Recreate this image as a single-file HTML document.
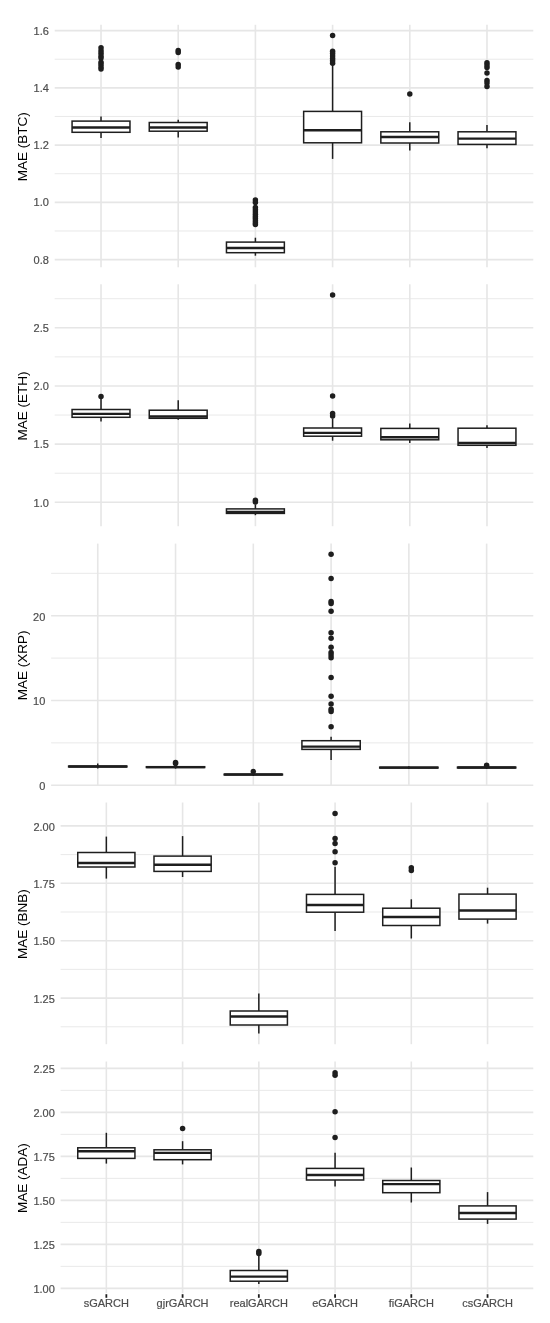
<!DOCTYPE html>
<html><head><meta charset="utf-8"><title>MAE boxplots</title>
<style>
html,body{margin:0;padding:0;background:#fff;}
body{width:550px;height:1323px;overflow:hidden;}
svg{display:block;will-change:transform;}
.tk{font-family:"Liberation Sans",sans-serif;font-size:11px;fill:#4D4D4D;stroke:#4D4D4D;stroke-width:0.2px;}
.tt{font-family:"Liberation Sans",sans-serif;font-size:13.5px;fill:#000;}
</style></head>
<body>
<svg width="550" height="1323" viewBox="0 0 550 1323">
<rect width="550" height="1323" fill="#fff"/>
<g>
<line x1="54.7" y1="230.98" x2="533.3" y2="230.98" stroke="#E6E6E6" stroke-width="0.9"/>
<line x1="54.7" y1="173.72" x2="533.3" y2="173.72" stroke="#E6E6E6" stroke-width="0.9"/>
<line x1="54.7" y1="116.48" x2="533.3" y2="116.48" stroke="#E6E6E6" stroke-width="0.9"/>
<line x1="54.7" y1="59.23" x2="533.3" y2="59.23" stroke="#E6E6E6" stroke-width="0.9"/>
<line x1="54.7" y1="259.6" x2="533.3" y2="259.6" stroke="#E6E6E6" stroke-width="1.6"/>
<line x1="54.7" y1="202.35" x2="533.3" y2="202.35" stroke="#E6E6E6" stroke-width="1.6"/>
<line x1="54.7" y1="145.1" x2="533.3" y2="145.1" stroke="#E6E6E6" stroke-width="1.6"/>
<line x1="54.7" y1="87.85" x2="533.3" y2="87.85" stroke="#E6E6E6" stroke-width="1.6"/>
<line x1="54.7" y1="30.6" x2="533.3" y2="30.6" stroke="#E6E6E6" stroke-width="1.6"/>
<line x1="101.02" y1="24.8" x2="101.02" y2="267.3" stroke="#E6E6E6" stroke-width="1.6"/>
<line x1="178.21" y1="24.8" x2="178.21" y2="267.3" stroke="#E6E6E6" stroke-width="1.6"/>
<line x1="255.4" y1="24.8" x2="255.4" y2="267.3" stroke="#E6E6E6" stroke-width="1.6"/>
<line x1="332.6" y1="24.8" x2="332.6" y2="267.3" stroke="#E6E6E6" stroke-width="1.6"/>
<line x1="409.79" y1="24.8" x2="409.79" y2="267.3" stroke="#E6E6E6" stroke-width="1.6"/>
<line x1="486.98" y1="24.8" x2="486.98" y2="267.3" stroke="#E6E6E6" stroke-width="1.6"/>
<text x="48.9" y="263.55" class="tk" text-anchor="end">0.8</text>
<text x="48.9" y="206.3" class="tk" text-anchor="end">1.0</text>
<text x="48.9" y="149.05" class="tk" text-anchor="end">1.2</text>
<text x="48.9" y="91.8" class="tk" text-anchor="end">1.4</text>
<text x="48.9" y="34.55" class="tk" text-anchor="end">1.6</text>
<text class="tt" text-anchor="middle" transform="translate(26.8 146.85) rotate(-90)">MAE (BTC)</text>
<line x1="101.02" y1="116.6" x2="101.02" y2="121.1" stroke="#1E1E1E" stroke-width="1.5"/>
<line x1="101.02" y1="132.3" x2="101.02" y2="138.1" stroke="#1E1E1E" stroke-width="1.5"/>
<rect x="72.07" y="121.1" width="57.9" height="11.2" fill="#fff" stroke="#1E1E1E" stroke-width="1.5"/>
<line x1="72.07" y1="127.5" x2="129.96" y2="127.5" stroke="#1E1E1E" stroke-width="2.4"/>
<circle cx="101.02" cy="47.7" r="2.75" fill="#1E1E1E"/>
<circle cx="101.02" cy="50.8" r="2.75" fill="#1E1E1E"/>
<circle cx="101.02" cy="53.3" r="2.75" fill="#1E1E1E"/>
<circle cx="101.02" cy="56" r="2.75" fill="#1E1E1E"/>
<circle cx="101.02" cy="58" r="2.75" fill="#1E1E1E"/>
<circle cx="101.02" cy="62.2" r="2.75" fill="#1E1E1E"/>
<circle cx="101.02" cy="64.6" r="2.75" fill="#1E1E1E"/>
<circle cx="101.02" cy="67" r="2.75" fill="#1E1E1E"/>
<circle cx="101.02" cy="69.1" r="2.75" fill="#1E1E1E"/>
<line x1="178.21" y1="119.7" x2="178.21" y2="122.5" stroke="#1E1E1E" stroke-width="1.5"/>
<line x1="178.21" y1="131.2" x2="178.21" y2="137.5" stroke="#1E1E1E" stroke-width="1.5"/>
<rect x="149.26" y="122.5" width="57.9" height="8.7" fill="#fff" stroke="#1E1E1E" stroke-width="1.5"/>
<line x1="149.26" y1="127.5" x2="207.16" y2="127.5" stroke="#1E1E1E" stroke-width="2.4"/>
<circle cx="178.21" cy="50.5" r="2.75" fill="#1E1E1E"/>
<circle cx="178.21" cy="52.5" r="2.75" fill="#1E1E1E"/>
<circle cx="178.21" cy="64.6" r="2.75" fill="#1E1E1E"/>
<circle cx="178.21" cy="67" r="2.75" fill="#1E1E1E"/>
<line x1="255.4" y1="237.7" x2="255.4" y2="242.1" stroke="#1E1E1E" stroke-width="1.5"/>
<line x1="255.4" y1="252.7" x2="255.4" y2="255.7" stroke="#1E1E1E" stroke-width="1.5"/>
<rect x="226.46" y="242.1" width="57.9" height="10.6" fill="#fff" stroke="#1E1E1E" stroke-width="1.5"/>
<line x1="226.46" y1="248" x2="284.35" y2="248" stroke="#1E1E1E" stroke-width="2.4"/>
<circle cx="255.4" cy="200" r="2.75" fill="#1E1E1E"/>
<circle cx="255.4" cy="202.6" r="2.75" fill="#1E1E1E"/>
<circle cx="255.4" cy="207.6" r="2.75" fill="#1E1E1E"/>
<circle cx="255.4" cy="209.8" r="2.75" fill="#1E1E1E"/>
<circle cx="255.4" cy="212" r="2.75" fill="#1E1E1E"/>
<circle cx="255.4" cy="214.2" r="2.75" fill="#1E1E1E"/>
<circle cx="255.4" cy="216.4" r="2.75" fill="#1E1E1E"/>
<circle cx="255.4" cy="218.6" r="2.75" fill="#1E1E1E"/>
<circle cx="255.4" cy="220.8" r="2.75" fill="#1E1E1E"/>
<circle cx="255.4" cy="222.8" r="2.75" fill="#1E1E1E"/>
<circle cx="255.4" cy="224.4" r="2.75" fill="#1E1E1E"/>
<line x1="332.6" y1="64.5" x2="332.6" y2="111.4" stroke="#1E1E1E" stroke-width="1.5"/>
<line x1="332.6" y1="142.8" x2="332.6" y2="158.9" stroke="#1E1E1E" stroke-width="1.5"/>
<rect x="303.65" y="111.4" width="57.9" height="31.4" fill="#fff" stroke="#1E1E1E" stroke-width="1.5"/>
<line x1="303.65" y1="130.2" x2="361.54" y2="130.2" stroke="#1E1E1E" stroke-width="2.4"/>
<circle cx="332.6" cy="35.6" r="2.75" fill="#1E1E1E"/>
<circle cx="332.6" cy="51.2" r="2.75" fill="#1E1E1E"/>
<circle cx="332.6" cy="53.6" r="2.75" fill="#1E1E1E"/>
<circle cx="332.6" cy="56" r="2.75" fill="#1E1E1E"/>
<circle cx="332.6" cy="58.4" r="2.75" fill="#1E1E1E"/>
<circle cx="332.6" cy="60.8" r="2.75" fill="#1E1E1E"/>
<circle cx="332.6" cy="63.2" r="2.75" fill="#1E1E1E"/>
<line x1="409.79" y1="122.3" x2="409.79" y2="131.8" stroke="#1E1E1E" stroke-width="1.5"/>
<line x1="409.79" y1="143" x2="409.79" y2="150.6" stroke="#1E1E1E" stroke-width="1.5"/>
<rect x="380.84" y="131.8" width="57.9" height="11.2" fill="#fff" stroke="#1E1E1E" stroke-width="1.5"/>
<line x1="380.84" y1="137" x2="438.74" y2="137" stroke="#1E1E1E" stroke-width="2.4"/>
<circle cx="409.79" cy="94" r="2.75" fill="#1E1E1E"/>
<line x1="486.98" y1="125" x2="486.98" y2="131.8" stroke="#1E1E1E" stroke-width="1.5"/>
<line x1="486.98" y1="144.4" x2="486.98" y2="148.2" stroke="#1E1E1E" stroke-width="1.5"/>
<rect x="458.04" y="131.8" width="57.9" height="12.6" fill="#fff" stroke="#1E1E1E" stroke-width="1.5"/>
<line x1="458.04" y1="138.6" x2="515.93" y2="138.6" stroke="#1E1E1E" stroke-width="2.4"/>
<circle cx="486.98" cy="62.8" r="2.75" fill="#1E1E1E"/>
<circle cx="486.98" cy="65" r="2.75" fill="#1E1E1E"/>
<circle cx="486.98" cy="67.5" r="2.75" fill="#1E1E1E"/>
<circle cx="486.98" cy="73.1" r="2.75" fill="#1E1E1E"/>
<circle cx="486.98" cy="80.5" r="2.75" fill="#1E1E1E"/>
<circle cx="486.98" cy="83" r="2.75" fill="#1E1E1E"/>
<circle cx="486.98" cy="86.4" r="2.75" fill="#1E1E1E"/>
</g>
<g>
<line x1="54.7" y1="473.23" x2="533.3" y2="473.23" stroke="#E6E6E6" stroke-width="0.9"/>
<line x1="54.7" y1="415.06" x2="533.3" y2="415.06" stroke="#E6E6E6" stroke-width="0.9"/>
<line x1="54.7" y1="356.88" x2="533.3" y2="356.88" stroke="#E6E6E6" stroke-width="0.9"/>
<line x1="54.7" y1="298.72" x2="533.3" y2="298.72" stroke="#E6E6E6" stroke-width="0.9"/>
<line x1="54.7" y1="502.31" x2="533.3" y2="502.31" stroke="#E6E6E6" stroke-width="1.6"/>
<line x1="54.7" y1="444.14" x2="533.3" y2="444.14" stroke="#E6E6E6" stroke-width="1.6"/>
<line x1="54.7" y1="385.97" x2="533.3" y2="385.97" stroke="#E6E6E6" stroke-width="1.6"/>
<line x1="54.7" y1="327.8" x2="533.3" y2="327.8" stroke="#E6E6E6" stroke-width="1.6"/>
<line x1="101.02" y1="284.3" x2="101.02" y2="526.2" stroke="#E6E6E6" stroke-width="1.6"/>
<line x1="178.21" y1="284.3" x2="178.21" y2="526.2" stroke="#E6E6E6" stroke-width="1.6"/>
<line x1="255.4" y1="284.3" x2="255.4" y2="526.2" stroke="#E6E6E6" stroke-width="1.6"/>
<line x1="332.6" y1="284.3" x2="332.6" y2="526.2" stroke="#E6E6E6" stroke-width="1.6"/>
<line x1="409.79" y1="284.3" x2="409.79" y2="526.2" stroke="#E6E6E6" stroke-width="1.6"/>
<line x1="486.98" y1="284.3" x2="486.98" y2="526.2" stroke="#E6E6E6" stroke-width="1.6"/>
<text x="48.9" y="506.56" class="tk" text-anchor="end">1.0</text>
<text x="48.9" y="448.39" class="tk" text-anchor="end">1.5</text>
<text x="48.9" y="390.22" class="tk" text-anchor="end">2.0</text>
<text x="48.9" y="332.05" class="tk" text-anchor="end">2.5</text>
<text class="tt" text-anchor="middle" transform="translate(26.8 406.05) rotate(-90)">MAE (ETH)</text>
<line x1="101.02" y1="399" x2="101.02" y2="409.5" stroke="#1E1E1E" stroke-width="1.5"/>
<line x1="101.02" y1="417.3" x2="101.02" y2="421.5" stroke="#1E1E1E" stroke-width="1.5"/>
<rect x="72.07" y="409.5" width="57.9" height="7.8" fill="#fff" stroke="#1E1E1E" stroke-width="1.5"/>
<line x1="72.07" y1="413.9" x2="129.96" y2="413.9" stroke="#1E1E1E" stroke-width="2.4"/>
<circle cx="101.02" cy="396.6" r="2.75" fill="#1E1E1E"/>
<line x1="178.21" y1="400.3" x2="178.21" y2="410.2" stroke="#1E1E1E" stroke-width="1.5"/>
<line x1="178.21" y1="418.3" x2="178.21" y2="419.8" stroke="#1E1E1E" stroke-width="1.5"/>
<rect x="149.26" y="410.2" width="57.9" height="8.1" fill="#fff" stroke="#1E1E1E" stroke-width="1.5"/>
<line x1="149.26" y1="416.5" x2="207.16" y2="416.5" stroke="#1E1E1E" stroke-width="2.4"/>
<line x1="255.4" y1="504.5" x2="255.4" y2="508.9" stroke="#1E1E1E" stroke-width="1.5"/>
<line x1="255.4" y1="513.4" x2="255.4" y2="515.2" stroke="#1E1E1E" stroke-width="1.5"/>
<rect x="226.46" y="508.9" width="57.9" height="4.5" fill="#fff" stroke="#1E1E1E" stroke-width="1.5"/>
<line x1="226.46" y1="512" x2="284.35" y2="512" stroke="#1E1E1E" stroke-width="2.4"/>
<circle cx="255.4" cy="500.2" r="2.75" fill="#1E1E1E"/>
<circle cx="255.4" cy="502" r="2.75" fill="#1E1E1E"/>
<line x1="332.6" y1="418.5" x2="332.6" y2="428" stroke="#1E1E1E" stroke-width="1.5"/>
<line x1="332.6" y1="436.2" x2="332.6" y2="440.7" stroke="#1E1E1E" stroke-width="1.5"/>
<rect x="303.65" y="428" width="57.9" height="8.2" fill="#fff" stroke="#1E1E1E" stroke-width="1.5"/>
<line x1="303.65" y1="432.9" x2="361.54" y2="432.9" stroke="#1E1E1E" stroke-width="2.4"/>
<circle cx="332.6" cy="295" r="2.75" fill="#1E1E1E"/>
<circle cx="332.6" cy="396.1" r="2.75" fill="#1E1E1E"/>
<circle cx="332.6" cy="413.5" r="2.75" fill="#1E1E1E"/>
<circle cx="332.6" cy="416" r="2.75" fill="#1E1E1E"/>
<line x1="409.79" y1="423.5" x2="409.79" y2="428.4" stroke="#1E1E1E" stroke-width="1.5"/>
<line x1="409.79" y1="439.8" x2="409.79" y2="443" stroke="#1E1E1E" stroke-width="1.5"/>
<rect x="380.84" y="428.4" width="57.9" height="11.4" fill="#fff" stroke="#1E1E1E" stroke-width="1.5"/>
<line x1="380.84" y1="437.3" x2="438.74" y2="437.3" stroke="#1E1E1E" stroke-width="2.4"/>
<line x1="486.98" y1="425.2" x2="486.98" y2="428.2" stroke="#1E1E1E" stroke-width="1.5"/>
<line x1="486.98" y1="445.3" x2="486.98" y2="448.1" stroke="#1E1E1E" stroke-width="1.5"/>
<rect x="458.04" y="428.2" width="57.9" height="17.1" fill="#fff" stroke="#1E1E1E" stroke-width="1.5"/>
<line x1="458.04" y1="443" x2="515.93" y2="443" stroke="#1E1E1E" stroke-width="2.4"/>
</g>
<g>
<line x1="51.1" y1="742.83" x2="533.3" y2="742.83" stroke="#E6E6E6" stroke-width="0.9"/>
<line x1="51.1" y1="658.08" x2="533.3" y2="658.08" stroke="#E6E6E6" stroke-width="0.9"/>
<line x1="51.1" y1="573.33" x2="533.3" y2="573.33" stroke="#E6E6E6" stroke-width="0.9"/>
<line x1="51.1" y1="785.2" x2="533.3" y2="785.2" stroke="#E6E6E6" stroke-width="1.6"/>
<line x1="51.1" y1="700.45" x2="533.3" y2="700.45" stroke="#E6E6E6" stroke-width="1.6"/>
<line x1="51.1" y1="615.7" x2="533.3" y2="615.7" stroke="#E6E6E6" stroke-width="1.6"/>
<line x1="97.76" y1="543.6" x2="97.76" y2="785.6" stroke="#E6E6E6" stroke-width="1.6"/>
<line x1="175.54" y1="543.6" x2="175.54" y2="785.6" stroke="#E6E6E6" stroke-width="1.6"/>
<line x1="253.31" y1="543.6" x2="253.31" y2="785.6" stroke="#E6E6E6" stroke-width="1.6"/>
<line x1="331.09" y1="543.6" x2="331.09" y2="785.6" stroke="#E6E6E6" stroke-width="1.6"/>
<line x1="408.86" y1="543.6" x2="408.86" y2="785.6" stroke="#E6E6E6" stroke-width="1.6"/>
<line x1="486.64" y1="543.6" x2="486.64" y2="785.6" stroke="#E6E6E6" stroke-width="1.6"/>
<text x="45.3" y="790.05" class="tk" text-anchor="end">0</text>
<text x="45.3" y="705.3" class="tk" text-anchor="end">10</text>
<text x="45.3" y="620.55" class="tk" text-anchor="end">20</text>
<text class="tt" text-anchor="middle" transform="translate(26.8 665.4) rotate(-90)">MAE (XRP)</text>
<line x1="97.76" y1="763.6" x2="97.76" y2="766.1" stroke="#1E1E1E" stroke-width="1.5"/>
<line x1="97.76" y1="766.9" x2="97.76" y2="768.5" stroke="#1E1E1E" stroke-width="1.5"/>
<rect x="68.6" y="766.1" width="58.33" height="0.8" fill="#fff" stroke="#1E1E1E" stroke-width="1.5"/>
<line x1="68.6" y1="766.5" x2="126.93" y2="766.5" stroke="#1E1E1E" stroke-width="2.4"/>
<line x1="175.54" y1="765.5" x2="175.54" y2="766.7" stroke="#1E1E1E" stroke-width="1.5"/>
<line x1="175.54" y1="767.5" x2="175.54" y2="768.6" stroke="#1E1E1E" stroke-width="1.5"/>
<rect x="146.37" y="766.7" width="58.33" height="0.8" fill="#fff" stroke="#1E1E1E" stroke-width="1.5"/>
<line x1="146.37" y1="767.1" x2="204.7" y2="767.1" stroke="#1E1E1E" stroke-width="2.4"/>
<circle cx="175.54" cy="762.6" r="2.75" fill="#1E1E1E"/>
<circle cx="175.54" cy="763.6" r="2.75" fill="#1E1E1E"/>
<line x1="253.31" y1="773" x2="253.31" y2="774.2" stroke="#1E1E1E" stroke-width="1.5"/>
<line x1="253.31" y1="774.9" x2="253.31" y2="776" stroke="#1E1E1E" stroke-width="1.5"/>
<rect x="224.15" y="774.2" width="58.33" height="0.7" fill="#fff" stroke="#1E1E1E" stroke-width="1.5"/>
<line x1="224.15" y1="774.55" x2="282.48" y2="774.55" stroke="#1E1E1E" stroke-width="2.4"/>
<circle cx="253.31" cy="771.6" r="2.75" fill="#1E1E1E"/>
<line x1="331.09" y1="736.7" x2="331.09" y2="740.7" stroke="#1E1E1E" stroke-width="1.5"/>
<line x1="331.09" y1="749.4" x2="331.09" y2="760" stroke="#1E1E1E" stroke-width="1.5"/>
<rect x="301.92" y="740.7" width="58.33" height="8.7" fill="#fff" stroke="#1E1E1E" stroke-width="1.5"/>
<line x1="301.92" y1="746.6" x2="360.25" y2="746.6" stroke="#1E1E1E" stroke-width="2.4"/>
<circle cx="331.09" cy="554.3" r="2.75" fill="#1E1E1E"/>
<circle cx="331.09" cy="578.5" r="2.75" fill="#1E1E1E"/>
<circle cx="331.09" cy="601.6" r="2.75" fill="#1E1E1E"/>
<circle cx="331.09" cy="603.6" r="2.75" fill="#1E1E1E"/>
<circle cx="331.09" cy="611.3" r="2.75" fill="#1E1E1E"/>
<circle cx="331.09" cy="632.8" r="2.75" fill="#1E1E1E"/>
<circle cx="331.09" cy="638.2" r="2.75" fill="#1E1E1E"/>
<circle cx="331.09" cy="647.3" r="2.75" fill="#1E1E1E"/>
<circle cx="331.09" cy="652.5" r="2.75" fill="#1E1E1E"/>
<circle cx="331.09" cy="655" r="2.75" fill="#1E1E1E"/>
<circle cx="331.09" cy="657.8" r="2.75" fill="#1E1E1E"/>
<circle cx="331.09" cy="677.5" r="2.75" fill="#1E1E1E"/>
<circle cx="331.09" cy="696.3" r="2.75" fill="#1E1E1E"/>
<circle cx="331.09" cy="704" r="2.75" fill="#1E1E1E"/>
<circle cx="331.09" cy="709.2" r="2.75" fill="#1E1E1E"/>
<circle cx="331.09" cy="711.6" r="2.75" fill="#1E1E1E"/>
<circle cx="331.09" cy="726.8" r="2.75" fill="#1E1E1E"/>
<line x1="408.86" y1="766.3" x2="408.86" y2="767.2" stroke="#1E1E1E" stroke-width="1.5"/>
<line x1="408.86" y1="768" x2="408.86" y2="769" stroke="#1E1E1E" stroke-width="1.5"/>
<rect x="379.7" y="767.2" width="58.33" height="0.8" fill="#fff" stroke="#1E1E1E" stroke-width="1.5"/>
<line x1="379.7" y1="767.6" x2="438.03" y2="767.6" stroke="#1E1E1E" stroke-width="2.4"/>
<line x1="486.64" y1="766" x2="486.64" y2="767.15" stroke="#1E1E1E" stroke-width="1.5"/>
<line x1="486.64" y1="767.95" x2="486.64" y2="769" stroke="#1E1E1E" stroke-width="1.5"/>
<rect x="457.47" y="767.15" width="58.33" height="0.8" fill="#fff" stroke="#1E1E1E" stroke-width="1.5"/>
<line x1="457.47" y1="767.55" x2="515.8" y2="767.55" stroke="#1E1E1E" stroke-width="2.4"/>
<circle cx="486.64" cy="765.2" r="2.75" fill="#1E1E1E"/>
</g>
<g>
<line x1="60.6" y1="1026.8" x2="533.3" y2="1026.8" stroke="#E6E6E6" stroke-width="0.9"/>
<line x1="60.6" y1="969.4" x2="533.3" y2="969.4" stroke="#E6E6E6" stroke-width="0.9"/>
<line x1="60.6" y1="912" x2="533.3" y2="912" stroke="#E6E6E6" stroke-width="0.9"/>
<line x1="60.6" y1="854.6" x2="533.3" y2="854.6" stroke="#E6E6E6" stroke-width="0.9"/>
<line x1="60.6" y1="998.1" x2="533.3" y2="998.1" stroke="#E6E6E6" stroke-width="1.6"/>
<line x1="60.6" y1="940.7" x2="533.3" y2="940.7" stroke="#E6E6E6" stroke-width="1.6"/>
<line x1="60.6" y1="883.3" x2="533.3" y2="883.3" stroke="#E6E6E6" stroke-width="1.6"/>
<line x1="60.6" y1="825.9" x2="533.3" y2="825.9" stroke="#E6E6E6" stroke-width="1.6"/>
<line x1="106.35" y1="802.5" x2="106.35" y2="1044.2" stroke="#E6E6E6" stroke-width="1.6"/>
<line x1="182.59" y1="802.5" x2="182.59" y2="1044.2" stroke="#E6E6E6" stroke-width="1.6"/>
<line x1="258.83" y1="802.5" x2="258.83" y2="1044.2" stroke="#E6E6E6" stroke-width="1.6"/>
<line x1="335.07" y1="802.5" x2="335.07" y2="1044.2" stroke="#E6E6E6" stroke-width="1.6"/>
<line x1="411.31" y1="802.5" x2="411.31" y2="1044.2" stroke="#E6E6E6" stroke-width="1.6"/>
<line x1="487.55" y1="802.5" x2="487.55" y2="1044.2" stroke="#E6E6E6" stroke-width="1.6"/>
<text x="54.8" y="1002.85" class="tk" text-anchor="end">1.25</text>
<text x="54.8" y="945.45" class="tk" text-anchor="end">1.50</text>
<text x="54.8" y="888.05" class="tk" text-anchor="end">1.75</text>
<text x="54.8" y="830.65" class="tk" text-anchor="end">2.00</text>
<text class="tt" text-anchor="middle" transform="translate(26.8 924.15) rotate(-90)">MAE (BNB)</text>
<line x1="106.35" y1="836.6" x2="106.35" y2="852.5" stroke="#1E1E1E" stroke-width="1.5"/>
<line x1="106.35" y1="867" x2="106.35" y2="878.6" stroke="#1E1E1E" stroke-width="1.5"/>
<rect x="77.75" y="852.5" width="57.18" height="14.5" fill="#fff" stroke="#1E1E1E" stroke-width="1.5"/>
<line x1="77.75" y1="863" x2="134.94" y2="863" stroke="#1E1E1E" stroke-width="2.4"/>
<line x1="182.59" y1="836.1" x2="182.59" y2="856.1" stroke="#1E1E1E" stroke-width="1.5"/>
<line x1="182.59" y1="871.4" x2="182.59" y2="877" stroke="#1E1E1E" stroke-width="1.5"/>
<rect x="154" y="856.1" width="57.18" height="15.3" fill="#fff" stroke="#1E1E1E" stroke-width="1.5"/>
<line x1="154" y1="864.7" x2="211.18" y2="864.7" stroke="#1E1E1E" stroke-width="2.4"/>
<line x1="258.83" y1="993.6" x2="258.83" y2="1011" stroke="#1E1E1E" stroke-width="1.5"/>
<line x1="258.83" y1="1025" x2="258.83" y2="1033.5" stroke="#1E1E1E" stroke-width="1.5"/>
<rect x="230.24" y="1011" width="57.18" height="14" fill="#fff" stroke="#1E1E1E" stroke-width="1.5"/>
<line x1="230.24" y1="1016.5" x2="287.42" y2="1016.5" stroke="#1E1E1E" stroke-width="2.4"/>
<line x1="335.07" y1="866.8" x2="335.07" y2="894.4" stroke="#1E1E1E" stroke-width="1.5"/>
<line x1="335.07" y1="912.2" x2="335.07" y2="930.9" stroke="#1E1E1E" stroke-width="1.5"/>
<rect x="306.48" y="894.4" width="57.18" height="17.8" fill="#fff" stroke="#1E1E1E" stroke-width="1.5"/>
<line x1="306.48" y1="905" x2="363.66" y2="905" stroke="#1E1E1E" stroke-width="2.4"/>
<circle cx="335.07" cy="813.4" r="2.75" fill="#1E1E1E"/>
<circle cx="335.07" cy="838.4" r="2.75" fill="#1E1E1E"/>
<circle cx="335.07" cy="843.4" r="2.75" fill="#1E1E1E"/>
<circle cx="335.07" cy="851.8" r="2.75" fill="#1E1E1E"/>
<circle cx="335.07" cy="862.7" r="2.75" fill="#1E1E1E"/>
<line x1="411.31" y1="899.3" x2="411.31" y2="908.2" stroke="#1E1E1E" stroke-width="1.5"/>
<line x1="411.31" y1="925.5" x2="411.31" y2="938.5" stroke="#1E1E1E" stroke-width="1.5"/>
<rect x="382.72" y="908.2" width="57.18" height="17.3" fill="#fff" stroke="#1E1E1E" stroke-width="1.5"/>
<line x1="382.72" y1="917" x2="439.9" y2="917" stroke="#1E1E1E" stroke-width="2.4"/>
<circle cx="411.31" cy="867.7" r="2.75" fill="#1E1E1E"/>
<circle cx="411.31" cy="870.6" r="2.75" fill="#1E1E1E"/>
<line x1="487.55" y1="887.7" x2="487.55" y2="894.1" stroke="#1E1E1E" stroke-width="1.5"/>
<line x1="487.55" y1="919.1" x2="487.55" y2="923.6" stroke="#1E1E1E" stroke-width="1.5"/>
<rect x="458.96" y="894.1" width="57.18" height="25" fill="#fff" stroke="#1E1E1E" stroke-width="1.5"/>
<line x1="458.96" y1="910.5" x2="516.15" y2="910.5" stroke="#1E1E1E" stroke-width="2.4"/>
</g>
<g>
<line x1="60.6" y1="1266.4" x2="533.3" y2="1266.4" stroke="#E6E6E6" stroke-width="0.9"/>
<line x1="60.6" y1="1222.4" x2="533.3" y2="1222.4" stroke="#E6E6E6" stroke-width="0.9"/>
<line x1="60.6" y1="1178.4" x2="533.3" y2="1178.4" stroke="#E6E6E6" stroke-width="0.9"/>
<line x1="60.6" y1="1134.4" x2="533.3" y2="1134.4" stroke="#E6E6E6" stroke-width="0.9"/>
<line x1="60.6" y1="1090.4" x2="533.3" y2="1090.4" stroke="#E6E6E6" stroke-width="0.9"/>
<line x1="60.6" y1="1288.4" x2="533.3" y2="1288.4" stroke="#E6E6E6" stroke-width="1.6"/>
<line x1="60.6" y1="1244.4" x2="533.3" y2="1244.4" stroke="#E6E6E6" stroke-width="1.6"/>
<line x1="60.6" y1="1200.4" x2="533.3" y2="1200.4" stroke="#E6E6E6" stroke-width="1.6"/>
<line x1="60.6" y1="1156.4" x2="533.3" y2="1156.4" stroke="#E6E6E6" stroke-width="1.6"/>
<line x1="60.6" y1="1112.4" x2="533.3" y2="1112.4" stroke="#E6E6E6" stroke-width="1.6"/>
<line x1="60.6" y1="1068.4" x2="533.3" y2="1068.4" stroke="#E6E6E6" stroke-width="1.6"/>
<line x1="106.35" y1="1061.5" x2="106.35" y2="1293.2" stroke="#E6E6E6" stroke-width="1.6"/>
<line x1="182.59" y1="1061.5" x2="182.59" y2="1293.2" stroke="#E6E6E6" stroke-width="1.6"/>
<line x1="258.83" y1="1061.5" x2="258.83" y2="1293.2" stroke="#E6E6E6" stroke-width="1.6"/>
<line x1="335.07" y1="1061.5" x2="335.07" y2="1293.2" stroke="#E6E6E6" stroke-width="1.6"/>
<line x1="411.31" y1="1061.5" x2="411.31" y2="1293.2" stroke="#E6E6E6" stroke-width="1.6"/>
<line x1="487.55" y1="1061.5" x2="487.55" y2="1293.2" stroke="#E6E6E6" stroke-width="1.6"/>
<text x="54.8" y="1292.7" class="tk" text-anchor="end">1.00</text>
<text x="54.8" y="1248.7" class="tk" text-anchor="end">1.25</text>
<text x="54.8" y="1204.7" class="tk" text-anchor="end">1.50</text>
<text x="54.8" y="1160.7" class="tk" text-anchor="end">1.75</text>
<text x="54.8" y="1116.7" class="tk" text-anchor="end">2.00</text>
<text x="54.8" y="1072.7" class="tk" text-anchor="end">2.25</text>
<text class="tt" text-anchor="middle" transform="translate(26.8 1178.15) rotate(-90)">MAE (ADA)</text>
<line x1="106.35" y1="1132.8" x2="106.35" y2="1147.8" stroke="#1E1E1E" stroke-width="1.5"/>
<line x1="106.35" y1="1158.4" x2="106.35" y2="1163.6" stroke="#1E1E1E" stroke-width="1.5"/>
<rect x="77.75" y="1147.8" width="57.18" height="10.6" fill="#fff" stroke="#1E1E1E" stroke-width="1.5"/>
<line x1="77.75" y1="1151.3" x2="134.94" y2="1151.3" stroke="#1E1E1E" stroke-width="2.4"/>
<line x1="182.59" y1="1141.2" x2="182.59" y2="1149.8" stroke="#1E1E1E" stroke-width="1.5"/>
<line x1="182.59" y1="1159.7" x2="182.59" y2="1164.4" stroke="#1E1E1E" stroke-width="1.5"/>
<rect x="154" y="1149.8" width="57.18" height="9.9" fill="#fff" stroke="#1E1E1E" stroke-width="1.5"/>
<line x1="154" y1="1152.9" x2="211.18" y2="1152.9" stroke="#1E1E1E" stroke-width="2.4"/>
<circle cx="182.59" cy="1128.6" r="2.75" fill="#1E1E1E"/>
<line x1="258.83" y1="1256" x2="258.83" y2="1270.5" stroke="#1E1E1E" stroke-width="1.5"/>
<line x1="258.83" y1="1281.2" x2="258.83" y2="1283.9" stroke="#1E1E1E" stroke-width="1.5"/>
<rect x="230.24" y="1270.5" width="57.18" height="10.7" fill="#fff" stroke="#1E1E1E" stroke-width="1.5"/>
<line x1="230.24" y1="1276.6" x2="287.42" y2="1276.6" stroke="#1E1E1E" stroke-width="2.4"/>
<circle cx="258.83" cy="1251.5" r="2.75" fill="#1E1E1E"/>
<circle cx="258.83" cy="1253.6" r="2.75" fill="#1E1E1E"/>
<line x1="335.07" y1="1152.7" x2="335.07" y2="1168.4" stroke="#1E1E1E" stroke-width="1.5"/>
<line x1="335.07" y1="1180" x2="335.07" y2="1186.4" stroke="#1E1E1E" stroke-width="1.5"/>
<rect x="306.48" y="1168.4" width="57.18" height="11.6" fill="#fff" stroke="#1E1E1E" stroke-width="1.5"/>
<line x1="306.48" y1="1175" x2="363.66" y2="1175" stroke="#1E1E1E" stroke-width="2.4"/>
<circle cx="335.07" cy="1072.8" r="2.75" fill="#1E1E1E"/>
<circle cx="335.07" cy="1075.2" r="2.75" fill="#1E1E1E"/>
<circle cx="335.07" cy="1111.8" r="2.75" fill="#1E1E1E"/>
<circle cx="335.07" cy="1137.5" r="2.75" fill="#1E1E1E"/>
<line x1="411.31" y1="1167.5" x2="411.31" y2="1180.5" stroke="#1E1E1E" stroke-width="1.5"/>
<line x1="411.31" y1="1192.7" x2="411.31" y2="1202.5" stroke="#1E1E1E" stroke-width="1.5"/>
<rect x="382.72" y="1180.5" width="57.18" height="12.2" fill="#fff" stroke="#1E1E1E" stroke-width="1.5"/>
<line x1="382.72" y1="1184.1" x2="439.9" y2="1184.1" stroke="#1E1E1E" stroke-width="2.4"/>
<line x1="487.55" y1="1192.1" x2="487.55" y2="1205.9" stroke="#1E1E1E" stroke-width="1.5"/>
<line x1="487.55" y1="1219.1" x2="487.55" y2="1223.9" stroke="#1E1E1E" stroke-width="1.5"/>
<rect x="458.96" y="1205.9" width="57.18" height="13.2" fill="#fff" stroke="#1E1E1E" stroke-width="1.5"/>
<line x1="458.96" y1="1213" x2="516.15" y2="1213" stroke="#1E1E1E" stroke-width="2.4"/>
<line x1="106.35" y1="1294.2" x2="106.35" y2="1297.8" stroke="#1E1E1E" stroke-width="1.8"/>
<text x="106.35" y="1307.0" class="tk" text-anchor="middle">sGARCH</text>
<line x1="182.59" y1="1294.2" x2="182.59" y2="1297.8" stroke="#1E1E1E" stroke-width="1.8"/>
<text x="182.59" y="1307.0" class="tk" text-anchor="middle">gjrGARCH</text>
<line x1="258.83" y1="1294.2" x2="258.83" y2="1297.8" stroke="#1E1E1E" stroke-width="1.8"/>
<text x="258.83" y="1307.0" class="tk" text-anchor="middle">realGARCH</text>
<line x1="335.07" y1="1294.2" x2="335.07" y2="1297.8" stroke="#1E1E1E" stroke-width="1.8"/>
<text x="335.07" y="1307.0" class="tk" text-anchor="middle">eGARCH</text>
<line x1="411.31" y1="1294.2" x2="411.31" y2="1297.8" stroke="#1E1E1E" stroke-width="1.8"/>
<text x="411.31" y="1307.0" class="tk" text-anchor="middle">fiGARCH</text>
<line x1="487.55" y1="1294.2" x2="487.55" y2="1297.8" stroke="#1E1E1E" stroke-width="1.8"/>
<text x="487.55" y="1307.0" class="tk" text-anchor="middle">csGARCH</text>
</g>
</svg>
</body></html>
